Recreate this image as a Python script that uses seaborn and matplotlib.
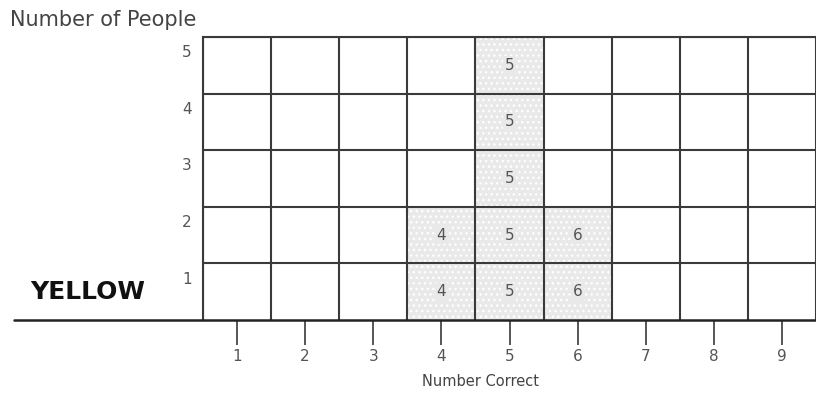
import numpy as np
import pandas as pd
import matplotlib
matplotlib.use('Agg')
import matplotlib.pyplot as plt
import matplotlib.transforms as mtransforms
import seaborn as sns

# data: number correct for each person in the YELLOW group
scores = [4, 4, 5, 5, 5, 5, 5, 6, 6]
x_ticks = [1, 2, 3, 4, 5, 6, 7, 8, 9]
y_ticks = [1, 2, 3, 4, 5]
group_name = 'YELLOW'

sns.set_style('white')
plt.rcParams['font.family'] = ['DejaVu Sans']
plt.rcParams['hatch.color'] = '#7a7a7a'
plt.rcParams['hatch.linewidth'] = 1.0

fill = '#e9e9e9'

fig = plt.figure(figsize=(8.16, 4.17), dpi=100)
ax = fig.add_axes([203 / 816, 97 / 417, 613 / 816, 283 / 417])

df = pd.DataFrame({'score': scores})
sns.histplot(data=df, x='score', discrete=True, ax=ax, color=fill,
             alpha=1, linewidth=0, hatch='...', zorder=1)

# numbers inside each filled cell
counts = df['score'].value_counts().sort_index()
for s, n in counts.items():
    for k in range(1, n + 1):
        ax.text(s, k - 0.5, str(s), ha='center', va='center',
                fontsize=11, color='#555555', zorder=4,
                bbox=dict(boxstyle='square,pad=0.1', fc=fill, ec='none'))

ax.set_xlim(0.5, 9.39)
ax.set_ylim(0, 5)

ax.set_axisbelow(False)
grid_kw = dict(color='#3a3a3a', linewidth=1.5, zorder=3)
ax.set_xticks(x_ticks)
ax.set_xticks(np.arange(0.5, 10, 1), minor=True)
ax.set_yticks([y - 0.25 for y in y_ticks], labels=[str(y) for y in y_ticks])
ax.set_yticks(y_ticks, minor=True)
ax.grid(which='minor', **grid_kw)
ax.grid(which='major', visible=False)
ax.tick_params(axis='x', which='major', length=18, width=1.4, color='#555555',
               pad=3, labelsize=11, labelcolor='#555555', bottom=True)
ax.tick_params(axis='x', which='minor', length=0)
ax.tick_params(axis='y', which='both', length=0, pad=8, labelsize=11,
               labelcolor='#555555')

for side in ['right', 'bottom']:
    ax.spines[side].set_visible(False)
for side in ['top', 'left']:
    ax.spines[side].set_color('#3a3a3a')
    ax.spines[side].set_linewidth(1.5)

# baseline extending to the left edge
trans = mtransforms.blended_transform_factory(fig.transFigure, ax.transData)
ax.plot([14 / 816, 1], [0, 0], transform=trans, color='#222222',
        linewidth=1.8, clip_on=False, zorder=5)

ax.set_xlabel('')
ax.set_ylabel('')
fig.text(10 / 816, 1 - 20 / 417, 'Number of People', ha='left', va='center',
         fontsize=15, color='#444444')
fig.text(481 / 816, 1 - 381 / 417, 'Number Correct', ha='center', va='center',
         fontsize=10.5, color='#444444')
fig.text(30 / 816, 1 - 292 / 417, group_name, ha='left', va='center',
         fontsize=18, fontweight='bold', color='#111111')

fig.savefig('out.png', dpi=100)
